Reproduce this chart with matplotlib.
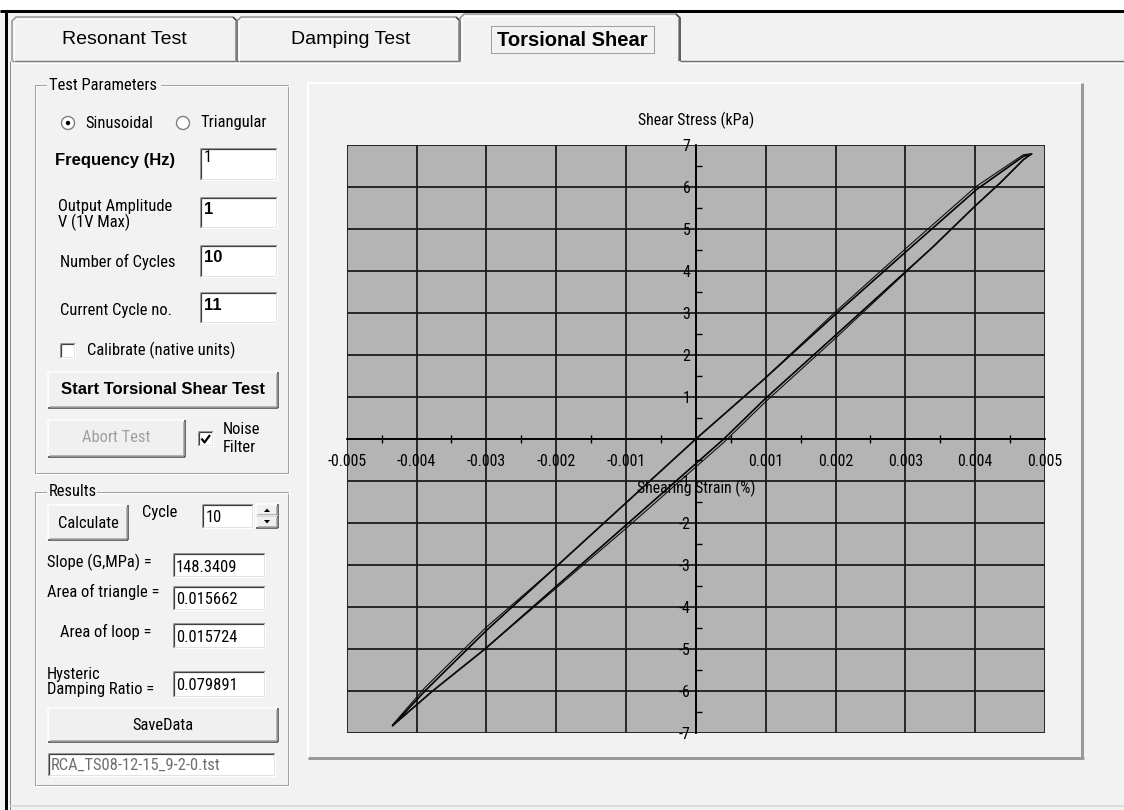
import matplotlib
matplotlib.use('Agg')
import matplotlib.pyplot as plt
from matplotlib import font_manager as fm
from matplotlib.patches import Rectangle, Circle
from matplotlib.ticker import MultipleLocator, FixedLocator, FixedFormatter

# ---------------- data ----------------
# cycle 1: upper branch (bottom-left tip -> top-right tip)
upper_strain = [-0.00434, -0.00388, -0.00327, -0.00300, -0.00200, -0.00100, 0.00000,
                0.00096, 0.00200, 0.00307, 0.00402, 0.00469, 0.00481]
upper_stress = [-6.82, -6.00, -5.00, -4.56, -3.04, -1.52, 0.00,
                1.40, 2.97, 4.55, 5.94, 6.73, 6.79]
# cycle 1: lower branch (top-right tip -> bottom-left tip)
lower_strain = [0.00481, 0.00469, 0.00436, 0.00402, 0.00338, 0.00200, 0.00100,
                0.00040, -0.00100, -0.00200, -0.00302, -0.00377, -0.00434]
lower_stress = [6.79, 6.65, 6.10, 5.58, 4.55, 2.47, 0.97,
                0.00, -2.05, -3.51, -5.00, -6.00, -6.82]
# cycle 2 (slightly different stresses at the same strains)
upper_stress_2 = [-6.80, -5.92, -4.92, -4.48, -3.04, -1.52, 0.00,
                  1.40, 3.03, 4.63, 6.02, 6.77, 6.79]
lower_stress_2 = [6.79, 6.65, 6.10, 5.58, 4.55, 2.40, 0.89,
                  -0.08, -2.13, -3.55, -5.00, -6.00, -6.82]

x_ticks = [-0.005, -0.004, -0.003, -0.002, -0.001, 0.0, 0.001, 0.002, 0.003, 0.004, 0.005]
x_tick_labels = ['-0.005', '-0.004', '-0.003', '-0.002', '-0.001', '',
                 '0.001', '0.002', '0.003', '0.004', '0.005']
y_ticks = [-7, -6, -5, -4, -3, -2, -1, 0, 1, 2, 3, 4, 5, 6, 7]
y_tick_labels = ['-7', '-6', '-5', '-4', '-3', '-2', '-1', '', '1', '2', '3', '4', '5', '6', '7']

tab_labels = ['Resonant Test', 'Damping Test', 'Torsional Shear']
param_labels = ['Frequency (Hz)', 'Output Amplitude\nV (1V Max)', 'Number of Cycles', 'Current Cycle no.']
param_values = ['1', '1', '10', '11']
result_labels = ['Slope (G,MPa) =', 'Area of triangle =', 'Area of loop =', 'Hysteric\nDamping Ratio =']
result_values = ['148.3409', '0.015662', '0.015724', '0.079891']
cycle_value = '10'
file_name = 'RCA_TS08-12-15_9-2-0.tst'

# ---------------- fonts ----------------
names = {f.name for f in fm.fontManager.ttflist}
NF, k = ['Liberation Sans', 'DejaVu Sans'], 0.84
for cand, kk in [('Liberation Sans Narrow', 1.0), ('Arial Narrow', 1.0),
                 ('Roboto Condensed', 0.95), ('Open Sans Condensed', 0.95)]:
    if cand in names:
        NF, k = [cand, 'DejaVu Sans'], kk
        break
RF = ['Liberation Sans', 'DejaVu Sans']

W, H = 1124, 810
PX = 0.72
BG = '#f1f2f1'
fig = plt.figure(figsize=(W / 100, H / 100), dpi=100)
fig.patch.set_facecolor(BG)
bg = fig.add_axes([0, 0, 1, 1])
bg.set_xlim(0, W)
bg.set_ylim(H, 0)
bg.set_autoscale_on(False)
bg.axis('off')


def L(xs, ys, c, w=1.0, ls='-', z=2):
    bg.plot(xs, ys, color=c, lw=w * PX, ls=ls, solid_capstyle='butt', zorder=z)


def R(x0, y0, x1, y1, fc, z=1):
    bg.add_patch(Rectangle((x0, y0), x1 - x0, y1 - y0, fc=fc, ec='none', zorder=z))


def T(x, y, s, size=12.5, fam=None, weight='normal', ha='left', va='center', color='black', ls=1.0):
    bg.text(x, y, s, fontsize=size, family=fam or NF, weight=weight, ha=ha, va=va,
            color=color, linespacing=ls, zorder=5)


def sunken(x0, y0, x1, y1):
    R(x0, y0, x1, y1, 'white')
    L([x0, x1], [y0, y0], '#a0a0a0')
    L([x0, x0], [y0, y1], '#a0a0a0')
    L([x0 + 1.2, x1 - 1], [y0 + 1.2, y0 + 1.2], '#404040', 1.2)
    L([x0 + 1.2, x0 + 1.2], [y0 + 1.2, y1 - 1], '#404040', 1.2)
    L([x0, x1], [y1, y1], '#ffffff')
    L([x1, x1], [y0, y1], '#ffffff')
    L([x0 + 1, x1 - 1], [y1 - 1, y1 - 1], '#e3e3e3')
    L([x1 - 1, x1 - 1], [y0 + 1, y1 - 1], '#e3e3e3')


def button(x0, y0, x1, y1):
    R(x0, y0, x1, y1, '#f0f0f0')
    L([x0, x1], [y0, y0], '#ffffff', 1.5)
    L([x0, x0], [y0, y1], '#ffffff', 1.5)
    L([x0, x1], [y1, y1], '#404040', 1.5)
    L([x1, x1], [y0, y1], '#404040', 1.5)
    L([x0 + 1.5, x1 - 1.5], [y1 - 1.5, y1 - 1.5], '#a0a0a0', 1.5)
    L([x1 - 1.5, x1 - 1.5], [y0 + 1.5, y1 - 1.5], '#a0a0a0', 1.5)


def groupbox(x0, y0, x1, y1, title, tw):
    L([x0, x1, x1, x0, x0], [y0, y0, y1, y1, y0], '#a0a0a0', 1.0)
    L([x0 + 1, x1 + 1], [y0 + 1, y0 + 1], '#ffffff', 1.0)
    L([x0 + 1, x0 + 1], [y0 + 1, y1], '#ffffff', 1.0)
    L([x0, x1 + 1], [y1 + 1, y1 + 1], '#ffffff', 1.0)
    L([x1 + 1, x1 + 1], [y0, y1 + 1], '#ffffff', 1.0)
    R(x0 + 12, y0 - 6, x0 + 14 + tw, y0 + 6, BG, z=3)
    T(x0 + 14, y0, title, size=12.5 * k)


def checkbox(x0, y0, s, checked):
    sunken(x0, y0, x0 + s, y0 + s)
    if checked:
        L([x0 + 3.5, x0 + 6.5, x0 + s - 3], [y0 + 7.5, y0 + s - 3.5, y0 + 4], 'black', 2.2)


def radio(cx, cy, sel):
    bg.add_patch(Circle((cx, cy), 6.5, fc='white', ec='#808080', lw=1.4 * PX, zorder=4))
    if sel:
        bg.add_patch(Circle((cx, cy), 2.2, fc='black', ec='none', zorder=5))


# ---------------- window frame & tabs ----------------
R(0, 0, W, 10, 'white')
L([0, W], [11, 11], 'black', 3)
L([6, 6], [11, H], 'black', 3)
L([9.5, 9.5], [61, H], '#8a8a8a', 1)
L([10, W], [806, 806], '#d6d6d6', 1.5)

tab_x = [(12, 237), (237, 460), (460, 680)]
for i, ((x0, x1), lab) in enumerate(zip(tab_x, tab_labels)):
    sel = i == 2
    yt = 14 if sel else 17
    xs = [x0, x0, x0 + 4, x1 - 4, x1, x1]
    ys = [61, yt + 4, yt, yt, yt + 4, 61]
    L(xs[:4], ys[:4], '#8c8c8c', 1.4, z=3)
    L([x0 + 1.5, x0 + 1.5], [61, yt + 4], '#ffffff', 1.0, z=3)
    L([x0 + 4, x1 - 4], [yt + 1.5, yt + 1.5], '#ffffff', 1.0, z=3)
    L(xs[3:], ys[3:], '#3c3c3c', 1.6, z=3)
    L([x1 - 1.6, x1 - 1.6], [yt + 4, 61], '#9a9a9a', 1.0, z=3)
    cx = (x0 + x1) / 2 + (2 if i == 1 else 0)
    if sel:
        T(572, 40, lab, size=14.5, fam=RF, weight='bold', ha='center')
        L([491, 654, 654, 491, 491], [26, 26, 53, 53, 26], '#505050', 1.0, ls=(0, (1, 1)))
    else:
        T(cx, 40, lab, size=14, fam=RF, ha='center')
L([12, 460], [61, 61], '#7a7a7a', 1.4)
L([12, 460], [62.5, 62.5], '#ffffff', 1.0)
L([680, W], [61, 61], '#6e6e6e', 1.4)
L([680, W], [62.5, 62.5], '#ffffff', 1.0)

# ---------------- Test Parameters group ----------------
groupbox(35, 85, 288, 473, 'Test Parameters', 112)
radio(68, 123, True)
T(85, 123, 'Sinusoidal', size=12.5 * k)
radio(183, 123, False)
T(200, 123, 'Triangular', size=12.5 * k)

box_rows = [(148, 180), (197, 228), (245, 277), (292, 323)]
label_y = [160, 215, 262, 310]
for i, ((y0, y1), lab, val, ly) in enumerate(zip(box_rows, param_labels, param_values, label_y)):
    if i == 0:
        T(55, ly, lab, size=12, fam=RF, weight='bold')
    else:
        T(58 if i == 1 else 60, ly, lab, size=12.5 * k, ls=0.95)
    sunken(200, y0, 277, y1)
    if i == 0:
        T(204, y0 + 10, val, size=12.5 * k)
    else:
        T(204, y0 + 13, val, size=12, fam=RF, weight='bold')

checkbox(60, 343, 15, False)
T(87, 350, 'Calibrate (native units)', size=12.5 * k)
button(48, 372, 278, 408)
T(163, 390, 'Start Torsional Shear Test', size=12, fam=RF, weight='bold', ha='center')
button(48, 420, 185, 457)
T(116, 438, 'Abort Test', size=12.5 * k, ha='center', color='#a0a0a0')
checkbox(198, 431, 15, True)
T(223, 429, 'Noise', size=12.5 * k)
T(223, 448, 'Filter', size=12.5 * k)

# ---------------- Results group ----------------
groupbox(35, 492, 288, 785, 'Results', 48)
button(48, 505, 128, 540)
T(88, 523, 'Calculate', size=12.5 * k, ha='center')
T(142, 513, 'Cycle', size=12.5 * k)
sunken(202, 504, 253, 528)
T(206, 517, cycle_value, size=12.5 * k)
button(256, 504, 278, 516)
button(256, 516, 278, 528)
bg.add_patch(plt.Polygon([[264, 512], [270, 512], [267, 508.5]], closed=True, fc='black', ec='none', zorder=5))
bg.add_patch(plt.Polygon([[264, 520], [270, 520], [267, 523.5]], closed=True, fc='black', ec='none', zorder=5))

res_rows = [(553, 577), (586, 610), (623, 648), (671, 697)]
res_label_pos = [(47, 562), (47, 592), (60, 632), (47, 682)]
for (y0, y1), lab, val, (lx, ly) in zip(res_rows, result_labels, result_values, res_label_pos):
    T(lx, ly, lab, size=12.5 * k, ls=0.95)
    sunken(173, y0, 265, y1)
    T(176, (y0 + y1) / 2 + 2, val, size=12.5 * k)

button(48, 708, 278, 742)
T(163, 725, 'SaveData', size=12.5 * k, ha='center')
sunken(48, 753, 275, 776)
T(51, 765, file_name, size=12.5 * k, color='#6e6e6e')

# ---------------- chart panel ----------------
px0, py0, px1, py1 = 308, 83, 1082, 758
L([px0, px1], [py0, py0], '#ffffff', 2)
L([px0, px0], [py0, py1], '#ffffff', 2)
L([px0, px1 + 1.5], [py1, py1], '#9a9a9a', 3)
L([px1, px1], [py0, py1], '#9a9a9a', 3)

ax_l, ax_t, ax_r, ax_b = 346.7, 145.0, 1045.0, 733.0
ax = fig.add_axes([ax_l / W, 1 - ax_b / H, (ax_r - ax_l) / W, (ax_b - ax_t) / H])
ax.set_facecolor('#b4b4b4')
ax.set_xlim(-0.005, 0.005)
ax.set_ylim(-7, 7)
ax.xaxis.set_major_locator(FixedLocator(x_ticks))
ax.xaxis.set_major_formatter(FixedFormatter(x_tick_labels))
ax.yaxis.set_major_locator(FixedLocator(y_ticks))
ax.yaxis.set_major_formatter(FixedFormatter(y_tick_labels))
ax.xaxis.set_minor_locator(MultipleLocator(0.0005))
ax.yaxis.set_minor_locator(MultipleLocator(0.5))
ax.grid(True, which='major', color='#1c1c1c', lw=1.3, zorder=1)
ax.set_axisbelow(True)
for s in ['top', 'right']:
    ax.spines[s].set_visible(False)
ax.spines['left'].set_position(('data', 0))
ax.spines['bottom'].set_position(('data', 0))
for s in ['left', 'bottom']:
    ax.spines[s].set_color('black')
    ax.spines[s].set_linewidth(1.3)
ax.tick_params(axis='x', which='major', length=0, pad=11, labelsize=12 * k)
ax.tick_params(axis='x', which='minor', direction='inout', length=6, width=1, color='black')
ax.tick_params(axis='y', which='major', length=0, pad=4, labelsize=12 * k)
ax.tick_params(axis='y', which='minor', direction='in', length=4, width=1, color='black')
for lab in ax.get_xticklabels() + ax.get_yticklabels():
    lab.set_family(NF)

ax.plot(upper_strain + lower_strain, upper_stress + lower_stress, color='black', lw=1.2, zorder=3)
ax.plot(upper_strain + lower_strain, upper_stress_2 + lower_stress_2, color='#101010', lw=0.8, zorder=3)

ax.text(0.5, (ax_b - 120) / (ax_b - ax_t), 'Shear Stress (kPa)', transform=ax.transAxes,
        ha='center', va='center', fontsize=12 * k, family=NF)
ax.text(0.5, (ax_b - 488) / (ax_b - ax_t), 'Shearing Strain (%)', transform=ax.transAxes,
        ha='center', va='center', fontsize=12 * k, family=NF, zorder=4)

fig.savefig('out.png', dpi=100, facecolor=fig.get_facecolor())
